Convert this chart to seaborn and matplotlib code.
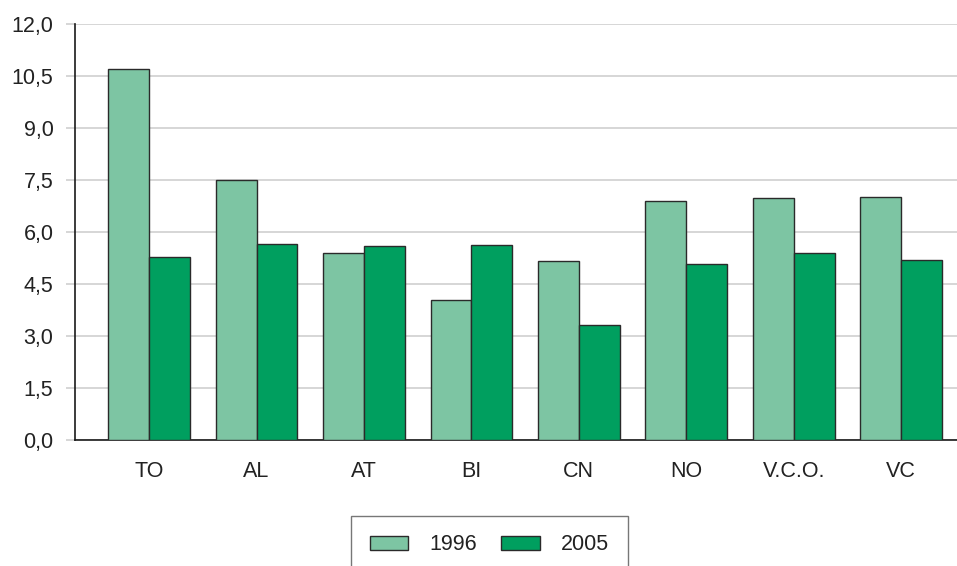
import pandas as pd
import matplotlib
matplotlib.use('Agg')
import matplotlib.pyplot as plt
import seaborn as sns

# values
provinces = ['TO', 'AL', 'AT', 'BI', 'CN', 'NO', 'V.C.O.', 'VC']
val_1996 = [10.7, 7.5, 5.38, 4.04, 5.17, 6.88, 6.99, 7.0]
val_2005 = [5.27, 5.65, 5.59, 5.62, 3.33, 5.09, 5.38, 5.18]
years = ['1996', '2005']
yticks = [0.0, 1.5, 3.0, 4.5, 6.0, 7.5, 9.0, 10.5, 12.0]

df = pd.DataFrame({
    'prov': provinces * 2,
    'year': [years[0]] * len(provinces) + [years[1]] * len(provinces),
    'val': val_1996 + val_2005,
})

sns.set_style('white')
plt.rcParams['font.family'] = ['Liberation Sans', 'DejaVu Sans']

fig = plt.figure(figsize=(9.57, 5.66), dpi=100)
ax = fig.add_axes([75 / 957, 1 - 440 / 566, 1 - 75 / 957, (440 - 24) / 566])

pal = {'1996': '#7dc5a3', '2005': '#009f5f'}
sns.barplot(data=df, x='prov', y='val', hue='year', palette=pal, width=0.76, saturation=1,
            edgecolor='#2a2a2a', linewidth=1.0, ax=ax, legend=False, zorder=3)

ax.set_ylim(0, 12)
ax.set_xlim(-0.69, 7.52)
ax.set_yticks(yticks)
ax.set_yticklabels([f'{v:.1f}'.replace('.', ',') for v in yticks])
ax.yaxis.grid(True, color='#cccccc', linewidth=1.1, zorder=0)
ax.set_axisbelow(True)
ax.set_xlabel('')
ax.set_ylabel('')

for s in ['top', 'right']:
    ax.spines[s].set_visible(False)
ax.spines['left'].set_color('#1a1a1a')
ax.spines['bottom'].set_color('#1a1a1a')
ax.spines['left'].set_linewidth(1.2)
ax.spines['bottom'].set_linewidth(1.2)

ax.tick_params(axis='y', length=6.5, width=1.1, color='#cccccc', labelsize=15.5,
               labelcolor='#222222', pad=9, left=True)
ax.tick_params(axis='x', length=0, labelsize=15.5, labelcolor='#222222', pad=15)

handles = [plt.Rectangle((0, 0), 1, 1, facecolor=pal[y], edgecolor='#2a2a2a', linewidth=1.0)
           for y in years]
leg = fig.legend(handles, years, loc='upper center', bbox_to_anchor=(489.5 / 957, 1 - 516 / 566),
                 ncol=2, frameon=True, fancybox=False, fontsize=15.5, handlelength=1.8,
                 handleheight=0.6, handletextpad=1.0, columnspacing=1.1, borderpad=0.85,
                 borderaxespad=0)
leg.get_frame().set_edgecolor('#555555')
leg.get_frame().set_linewidth(1.0)
for t in leg.get_texts():
    t.set_color('#222222')

fig.savefig('out.png', dpi=100)
